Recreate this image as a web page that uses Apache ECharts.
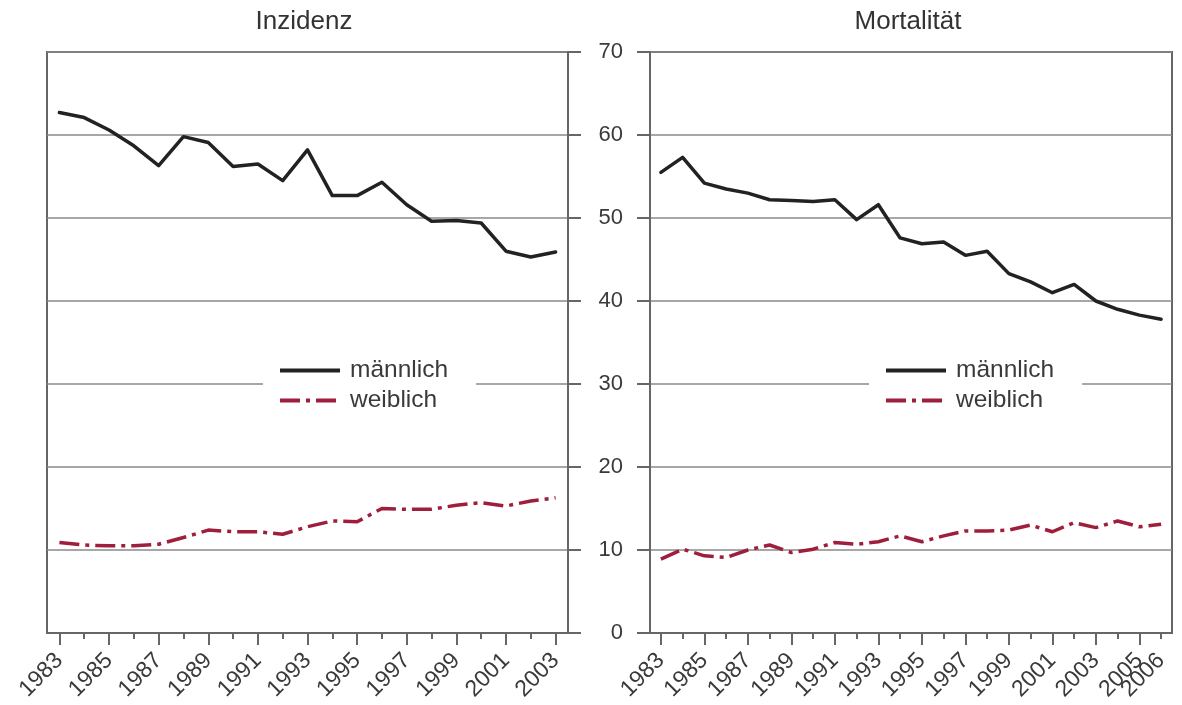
<!DOCTYPE html>
<html>
<head>
<meta charset="utf-8">
<script src="https://cdn.jsdelivr.net/npm/echarts@6/dist/echarts.min.js"></script>
<style>
html,body{margin:0;padding:0;background:#fff;}
#chart{width:1182px;height:705px;}
</style>
</head>
<body>
<div id="chart"></div>
<script>
// ---- data ----
const yearsInz = ['1983','1984','1985','1986','1987','1988','1989','1990','1991','1992','1993','1994','1995','1996','1997','1998','1999','2000','2001','2002','2003'];
const yearsMort = ['1983','1984','1985','1986','1987','1988','1989','1990','1991','1992','1993','1994','1995','1996','1997','1998','1999','2000','2001','2002','2003','2004','2005','2006'];
const incMale   = [62.7, 62.1, 60.6, 58.7, 56.3, 59.8, 59.1, 56.2, 56.5, 54.5, 58.2, 52.7, 52.7, 54.3, 51.6, 49.6, 49.7, 49.4, 46.0, 45.3, 45.9];
const incFemale = [10.9, 10.6, 10.5, 10.5, 10.7, 11.5, 12.4, 12.2, 12.2, 11.9, 12.8, 13.5, 13.4, 15.0, 14.9, 14.9, 15.4, 15.7, 15.3, 15.9, 16.3];
const mortMale   = [55.5, 57.3, 54.2, 53.5, 53.0, 52.2, 52.1, 52.0, 52.2, 49.8, 51.6, 47.6, 46.9, 47.1, 45.5, 46.0, 43.3, 42.3, 41.0, 42.0, 40.0, 39.0, 38.3, 37.8];
const mortFemale = [8.9, 10.1, 9.3, 9.1, 10.0, 10.6, 9.7, 10.1, 10.9, 10.7, 11.0, 11.7, 11.0, 11.7, 12.3, 12.3, 12.4, 13.0, 12.2, 13.3, 12.7, 13.5, 12.8, 13.1];
const extraMortLabel = '2006';
const titles = ['Inzidenz', 'Mortalität'];
const seriesNames = ['männlich', 'weiblich'];
const yMin = 0, yMax = 70, yStep = 10;

// ---- styles ----
const FONT = 'Liberation Sans, Arial, Helvetica, sans-serif';
const AX = '#666';
const TXT = '#3a3a3a';
const maleStyle = {color: '#222', width: 3.5, type: 'solid', cap: 'round', join: 'round'};
const femaleStyle = {color: '#9e1e3c', width: 3.5, type: [20, 6, 4, 6], cap: 'butt', join: 'round'};

const labelBase = {rotate: 45, fontSize: 23, fontFamily: FONT, color: TXT, margin: 24, hideOverlap: false};

function labelAxis(gridIndex, cats) {
  return {
    type: 'category', gridIndex: gridIndex, data: cats, boundaryGap: true, position: 'bottom',
    axisLine: {show: true, lineStyle: {color: AX, width: 2}},
    axisTick: {show: true, alignWithLabel: true, length: 12, lineStyle: {color: AX, width: 2},
      interval: function (i) { return i % 2 === 0; }},
    axisLabel: Object.assign({show: true, interval: function (i) { return i % 2 === 0; }}, labelBase),
    splitLine: {show: false}
  };
}
function minorAxis(gridIndex, cats) {
  return {
    type: 'category', gridIndex: gridIndex, data: cats, boundaryGap: true, position: 'bottom',
    axisLine: {show: false},
    axisTick: {show: true, alignWithLabel: true, length: 6, interval: 0, lineStyle: {color: AX, width: 2}},
    axisLabel: {show: false}, splitLine: {show: false}
  };
}
function extraLabelAxis(gridIndex, cats, label) {
  return {
    type: 'category', gridIndex: gridIndex, data: cats, boundaryGap: true, position: 'bottom',
    axisLine: {show: false}, axisTick: {show: false},
    axisLabel: Object.assign({show: true, interval: function (i, v) { return v === label; }}, labelBase),
    splitLine: {show: false}
  };
}
function yAxis(gridIndex, pos, showLabel) {
  return {
    type: 'value', gridIndex: gridIndex, position: pos, min: yMin, max: yMax, interval: yStep,
    axisLine: {show: true, lineStyle: {color: AX, width: 2}},
    axisTick: {show: true, inside: false, length: 13, lineStyle: {color: AX, width: 2}},
    axisLabel: {show: showLabel, fontSize: 22, fontFamily: FONT, color: TXT, margin: 27},
    splitLine: {show: true, lineStyle: {color: '#8a8a8a', width: 1.5}}
  };
}
function legend(left) {
  return {
    show: true, orient: 'vertical', left: left, top: 354, data: seriesNames,
    itemWidth: 60, itemHeight: 14, itemGap: 5,
    backgroundColor: '#fff', padding: [4, 28, 4, 15],
    itemStyle: {opacity: 0, borderWidth: 0},
    lineStyle: {width: 4, type: 'inherit', color: 'inherit', cap: 'butt'},
    textStyle: {fontSize: 24.5, fontFamily: FONT, color: TXT, padding: [0, 0, 0, 5]},
    selectedMode: false
  };
}

const option = {
  animation: false,
  backgroundColor: '#fff',
  title: [
    {text: titles[0], left: 304, top: 9, padding: 0, textAlign: 'center',
      textStyle: {fontSize: 26, fontWeight: 'normal', fontFamily: FONT, color: '#333'}},
    {text: titles[1], left: 908, top: 9, padding: 0, textAlign: 'center',
      textStyle: {fontSize: 26, fontWeight: 'normal', fontFamily: FONT, color: '#333'}}
  ],
  grid: [
    {left: 47, top: 52, width: 521, height: 581, show: true, borderColor: AX, borderWidth: 2, backgroundColor: 'transparent'},
    {left: 650, top: 52, width: 522, height: 581, show: true, borderColor: AX, borderWidth: 2, backgroundColor: 'transparent'}
  ],
  xAxis: [
    labelAxis(0, yearsInz),
    minorAxis(0, yearsInz),
    labelAxis(1, yearsMort),
    minorAxis(1, yearsMort),
    extraLabelAxis(1, yearsMort, extraMortLabel)
  ],
  yAxis: [
    yAxis(0, 'right', false),
    yAxis(1, 'left', true)
  ],
  legend: [legend(263), legend(869)],
  series: [
    {name: seriesNames[0], type: 'line', xAxisIndex: 0, yAxisIndex: 0, data: incMale, symbol: 'none', lineStyle: maleStyle, itemStyle: {color: maleStyle.color}, z: 3},
    {name: seriesNames[1], type: 'line', xAxisIndex: 0, yAxisIndex: 0, data: incFemale, symbol: 'none', lineStyle: femaleStyle, itemStyle: {color: femaleStyle.color}, z: 3},
    {name: seriesNames[0], type: 'line', xAxisIndex: 2, yAxisIndex: 1, data: mortMale, symbol: 'none', lineStyle: maleStyle, itemStyle: {color: maleStyle.color}, z: 3},
    {name: seriesNames[1], type: 'line', xAxisIndex: 2, yAxisIndex: 1, data: mortFemale, symbol: 'none', lineStyle: femaleStyle, itemStyle: {color: femaleStyle.color}, z: 3}
  ]
};
const chart = echarts.init(document.getElementById('chart'), null, {renderer: 'canvas'});
chart.setOption(option);
</script>
</body>
</html>
